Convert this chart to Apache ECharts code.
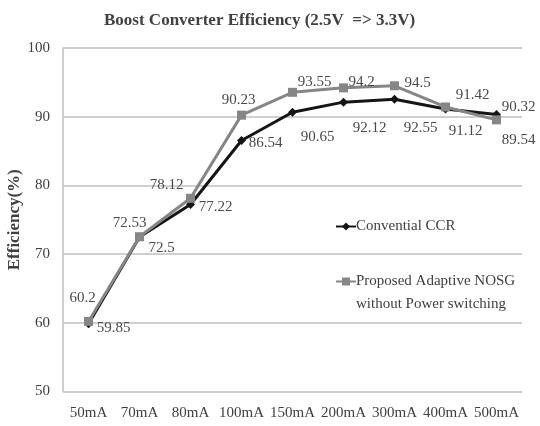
<!DOCTYPE html>
<html>
<head>
<meta charset="utf-8">
<script src="https://cdn.jsdelivr.net/npm/echarts@6/dist/echarts.min.js"></script>
<style>
    html, body { margin: 0; padding: 0; background: #fff; }
    #chart { width: 540px; height: 426px; }
</style>
</head>
<body>
<div id="chart"></div>
<script>
//横轴分类
var categories = ["50mA", "70mA", "80mA", "100mA", "150mA", "200mA", "300mA", "400mA", "500mA"];
//两条曲线的数据
var ccrValues = [59.85, 72.5, 77.22, 86.54, 90.65, 92.12, 92.55, 91.12, 90.32];
var nosgValues = [60.2, 72.53, 78.12, 90.23, 93.55, 94.2, 94.5, 91.42, 89.54];
//纵轴刻度
var yTicks = [50, 60, 70, 80, 90, 100];

//数据标签相对于点的偏移
var ccrOffsets = [[25, 4], [22, 11], [25, 3], [24, 3], [25, 25], [26, 26], [26, 29], [20, 22], [22, -7]];
var nosgOffsets = [[-6, -23], [-10, -14], [-24, -13], [-3, -15], [22, -10], [18, -6], [23, -3], [27, -12], [22, 20]];

var serif = "Liberation Serif";

function buildData(values, offsets) {
    return values.map(function (v, i) {
        return {
            value: v,
            label: { offset: offsets[i] }
        };
    });
}

var myChart = echarts.init(document.getElementById('chart'), null, { renderer: 'canvas' });
var option = {
    animation: false,
    title: {
        text: 'Boost Converter Efficiency (2.5V  => 3.3V)',
        left: 99,
        top: 7,
        textStyle: {
            fontFamily: serif,
            fontSize: 17,
            fontWeight: 'bold',
            color: '#404040'
        }
    },
    legend: [
        {
            data: ['Convential CCR'],
            left: 330,
            top: 214,
            itemWidth: 20,
            itemHeight: 10,
            textStyle: { fontFamily: serif, fontSize: 15, color: '#404040', padding: [0, 0, 0, -5] }
        },
        {
            //第一行留空，让图标对齐第二行文字
            data: ['Proposed Adaptive NOSG\nwithout Power switching'],
            formatter: function (name) { return ' \n' + name; },
            left: 330,
            top: 242,
            itemWidth: 20,
            itemHeight: 10,
            textStyle: { fontFamily: serif, fontSize: 15, color: '#404040', lineHeight: 23, padding: [0, 0, 0, -5] }
        }
    ],
    grid: {
        left: 63,
        right: 18,
        top: 48,
        bottom: 34.5,
        outerBoundsMode: 'none'
    },
    xAxis: {
        type: 'category',
        data: categories,
        boundaryGap: true,
        axisLine: { show: false },
        axisTick: { show: false },
        axisLabel: {
            fontFamily: serif,
            fontSize: 15,
            color: '#404040',
            margin: 14,
            interval: 0
        }
    },
    yAxis: {
        type: 'value',
        min: yTicks[0],
        max: yTicks[yTicks.length - 1],
        interval: 10,
        name: 'Efficiency(%)',
        nameLocation: 'middle',
        nameGap: 40,
        nameMoveOverlap: false,
        nameTextStyle: {
            fontFamily: serif,
            fontSize: 17,
            fontWeight: 'bold',
            color: '#404040'
        },
        axisLine: { show: true, lineStyle: { color: '#bfbfbf', width: 1.5 } },
        axisTick: { show: false },
        axisLabel: {
            fontFamily: serif,
            fontSize: 15,
            color: '#404040',
            margin: 13
        },
        splitLine: { lineStyle: { color: '#bfbfbf', width: 1.5 } }
    },
    series: [
        {
            name: 'Convential CCR',
            type: 'line',
            data: buildData(ccrValues, ccrOffsets),
            symbol: 'diamond',
            symbolSize: 9,
            lineStyle: { color: '#151515', width: 3 },
            itemStyle: { color: '#151515' },
            label: {
                show: true,
                position: 'inside',
                fontFamily: serif,
                fontSize: 15,
                color: '#4a4a4a'
            }
        },
        {
            name: 'Proposed Adaptive NOSG\nwithout Power switching',
            type: 'line',
            data: buildData(nosgValues, nosgOffsets),
            symbol: 'rect',
            symbolSize: 9,
            lineStyle: { color: '#868686', width: 3 },
            itemStyle: { color: '#868686' },
            label: {
                show: true,
                position: 'inside',
                fontFamily: serif,
                fontSize: 15,
                color: '#4a4a4a'
            }
        }
    ]
};
myChart.setOption(option);
window.onresize = myChart.resize;
</script>
</body>
</html>
